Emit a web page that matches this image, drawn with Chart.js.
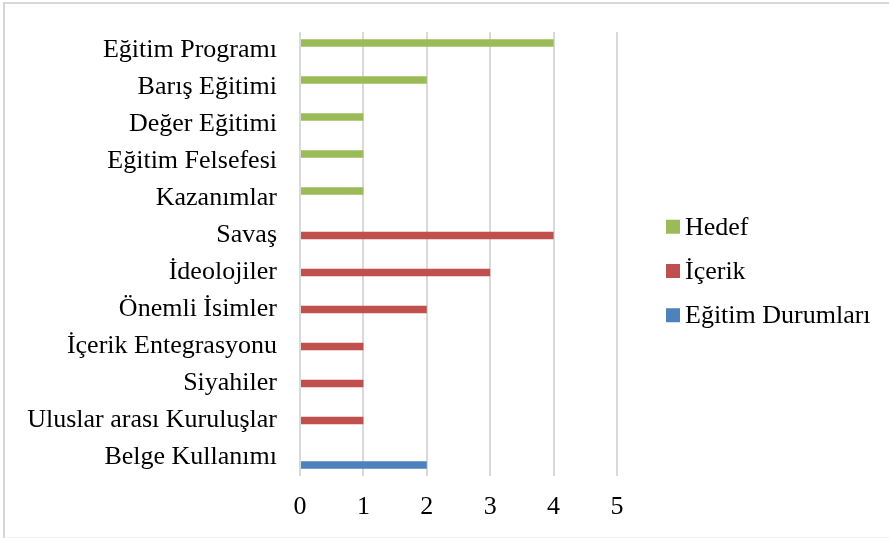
<!DOCTYPE html>
<html>
<head>
<meta charset="utf-8">
<script src="https://cdn.jsdelivr.net/npm/chart.js@4/dist/chart.umd.min.js"></script>
<style>
  html, body { margin: 0; padding: 0; background: #fff; }
  #wrap { position: relative; width: 889px; height: 538px; overflow: hidden; }
  #frame { position: absolute; left: 3px; top: 2px; width: 900px; height: 533px;
           border-left: 2px solid #d4d4d4; border-top: 2px solid #d9d9d9; border-bottom: 1px solid #eeeeee; }
  canvas { position: absolute; left: 0; top: 0; }
</style>
</head>
<body>
<div id="wrap">
  <canvas id="chart" width="889" height="538"></canvas>
  <div id="frame"></div>
</div>
<script>
const categories = [
  "Eğitim Programı", "Barış Eğitimi", "Değer Eğitimi", "Eğitim Felsefesi", "Kazanımlar",
  "Savaş", "İdeolojiler", "Önemli İsimler", "İçerik Entegrasyonu", "Siyahiler",
  "Uluslar arası Kuruluşlar", "Belge Kullanımı"
];
const hedef = [4, 2, 1, 1, 1, null, null, null, null, null, null, null];
const icerik = [null, null, null, null, null, 4, 3, 2, 1, 1, 1, null];
const egitimDurumlari = [null, null, null, null, null, null, null, null, null, null, null, 2];
const xTicks = [0, 1, 2, 3, 4, 5];

const FONT = "'Liberation Serif', 'Times New Roman', serif";
const FONT_SIZE = 26;

// legend drawn next to the plot, Excel style (small square + text)
const sideLegend = {
  id: "sideLegend",
  afterDraw(chart) {
    const ctx = chart.ctx;
    const area = chart.chartArea;
    const x = area.right + 49;
    const step = 44.25;
    const items = chart.data.datasets;
    const midY = (area.top + area.bottom) / 2 + 17;
    ctx.save();
    ctx.font = FONT_SIZE + "px " + FONT;
    ctx.textBaseline = "middle";
    ctx.textAlign = "left";
    items.forEach((ds, i) => {
      const cy = midY + (i - (items.length - 1) / 2) * step;
      ctx.fillStyle = ds.backgroundColor;
      ctx.fillRect(x, cy - 7, 14, 14);
      ctx.fillStyle = "#000";
      ctx.fillText(ds.label, x + 19, cy + 1);
    });
    ctx.restore();
  }
};

new Chart(document.getElementById("chart"), {
  type: "bar",
  data: {
    labels: categories,
    datasets: [
      { label: "Hedef", data: hedef, backgroundColor: "#9BBB59" },
      { label: "İçerik", data: icerik, backgroundColor: "#C0504D" },
      { label: "Eğitim Durumları", data: egitimDurumlari, backgroundColor: "#4F81BD" }
    ]
  },
  options: {
    indexAxis: "y",
    responsive: false,
    animation: false,
    categoryPercentage: 0.608,
    barPercentage: 0.97,
    layout: { padding: { left: 0, top: 32, right: 272, bottom: 0 } },
    plugins: { legend: { display: false }, tooltip: { enabled: false } },
    scales: {
      x: {
        min: 0, max: 5,
        afterBuildTicks: s => { s.ticks = xTicks.map(v => ({ value: v })); },
        afterFit: s => { s.height = 62; },
        grid: { color: "#d9d9d9", lineWidth: 2, drawTicks: false },
        border: { display: false },
        ticks: { color: "#000", font: { family: FONT, size: FONT_SIZE }, padding: 16 }
      },
      y: {
        afterFit: s => { s.width = 300; s.paddingTop = 0; s.paddingBottom = 0; },
        grid: { display: false, drawTicks: false },
        border: { display: false },
        ticks: { color: "#000", font: { family: FONT, size: FONT_SIZE }, padding: 23, autoSkip: false }
      }
    }
  },
  plugins: [sideLegend]
});
</script>
</body>
</html>
